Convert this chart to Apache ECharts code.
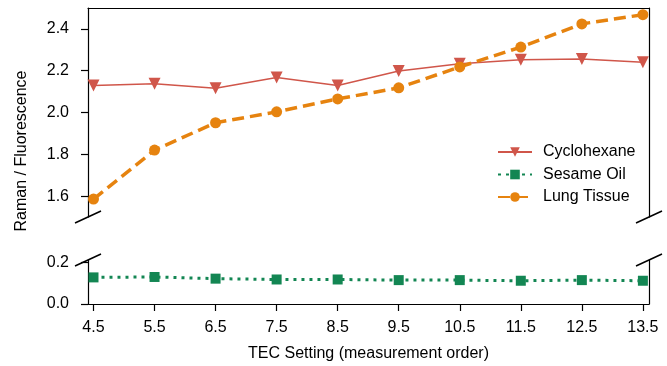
<!DOCTYPE html>
<html><head><meta charset="utf-8">
<script src="https://cdn.jsdelivr.net/npm/echarts@6/dist/echarts.min.js"></script>
<style>html,body{margin:0;padding:0;background:#fff}#c{width:667px;height:366px}</style>
</head><body><div id="c"></div>
<script>
const xValues = [4.5, 5.5, 6.5, 7.5, 8.5, 9.5, 10.5, 11.5, 12.5, 13.5];
const cyclohexane = [2.129, 2.138, 2.116, 2.167, 2.129, 2.199, 2.233, 2.252, 2.256, 2.240];
const sesameOil = [0.127, 0.129, 0.121, 0.117, 0.117, 0.114, 0.114, 0.111, 0.114, 0.111];
const lungTissue = [1.586, 1.820, 1.951, 2.003, 2.065, 2.118, 2.218, 2.313, 2.424, 2.468];
const xTicks = [4.5, 5.5, 6.5, 7.5, 8.5, 9.5, 10.5, 11.5, 12.5, 13.5];
const yTopTicks = [1.6, 1.8, 2.0, 2.2, 2.4];
const yBottomTicks = [0.0, 0.2];

const FONT = 'Liberation Sans';
const FS = 16;
const RED = '#d0564a', GREEN = '#138653', ORANGE = '#e6830f';
const pairs = arr => xValues.map((x, i) => [x, arr[i]]);
const axisLine = {show: true, lineStyle: {color: '#000', width: 1.2}};
const chart = echarts.init(document.getElementById('c'), null, {renderer: 'canvas'});

const L = 88, R = 649, T1 = 8, B1 = 217, T2 = 260, B2 = 304;
function yAx(gi, min, max, ticks, pos, show) {
  return {
    type: 'value', gridIndex: gi, position: pos, min: min, max: max,
    axisLine: axisLine,
    axisTick: show ? {show: true, customValues: ticks, length: 7, inside: false, lineStyle: {color: '#000', width: 1.2}} : {show: false},
    axisLabel: show ? {show: true, customValues: ticks, color: '#000', fontFamily: FONT, fontSize: FS, margin: 19,
      formatter: v => Number(v).toFixed(1)} : {show: false},
    splitLine: {show: false}
  };
}
const option = {
  animation: false,
  backgroundColor: '#fff',
  grid: [
    {left: L, right: 667 - R, top: T1, height: B1 - T1},
    {left: L, right: 667 - R, top: T2, height: B2 - T2}
  ],
  xAxis: [
    {type: 'value', gridIndex: 0, position: 'top', min: 4.41, max: 13.6,
     axisLine: axisLine, axisTick: {show: false}, axisLabel: {show: false}, splitLine: {show: false}},
    {type: 'value', gridIndex: 1, position: 'bottom', min: 4.41, max: 13.6,
     axisLine: axisLine,
     axisTick: {show: true, customValues: xTicks, length: 7, lineStyle: {color: '#000', width: 1.2}},
     axisLabel: {show: true, customValues: xTicks, color: '#000', fontFamily: FONT, fontSize: FS, margin: 16,
       formatter: v => Number(v).toFixed(1)},
     splitLine: {show: false}}
  ],
  yAxis: [
    yAx(0, 1.5, 2.5, yTopTicks, 'left', true),
    yAx(0, 1.5, 2.5, yTopTicks, 'right', false),
    yAx(1, 0, 0.21, yBottomTicks, 'left', true),
    yAx(1, 0, 0.21, yBottomTicks, 'right', false)
  ],
  legend: {
    orient: 'vertical', left: 497, top: 144, itemWidth: 34, itemHeight: 12, itemGap: 6.5, padding: 0,
    textStyle: {fontFamily: FONT, fontSize: FS, color: '#000', padding: [0, 0, 0, 6]},
    data: ['Cyclohexane', 'Sesame Oil', 'Lung Tissue']
  },
  series: [
    {name: 'Cyclohexane', type: 'line', xAxisIndex: 0, yAxisIndex: 0, data: pairs(cyclohexane),
     symbol: 'triangle', symbolRotate: 180, symbolSize: 12, clip: false,
     lineStyle: {color: RED, width: 1.5}, itemStyle: {color: RED}},
    {name: 'Sesame Oil', type: 'line', xAxisIndex: 1, yAxisIndex: 2, data: pairs(sesameOil),
     symbol: 'rect', symbolSize: 10, clip: false,
     lineStyle: {color: GREEN, width: 3, type: [3, 5]}, itemStyle: {color: GREEN}},
    {name: 'Lung Tissue', type: 'line', xAxisIndex: 0, yAxisIndex: 0, data: pairs(lungTissue),
     symbol: 'circle', symbolSize: 11, clip: false,
     lineStyle: {color: ORANGE, width: 3.5, type: [12, 6]}, itemStyle: {color: ORANGE}}
  ],
  graphic: [
    {type: 'line', shape: {x1: L - 13, y1: B1 + 6, x2: L + 13, y2: B1 - 6}, style: {stroke: '#000', lineWidth: 1.5}},
    {type: 'line', shape: {x1: R - 13, y1: B1 + 6, x2: R + 13, y2: B1 - 6}, style: {stroke: '#000', lineWidth: 1.5}},
    {type: 'line', shape: {x1: L - 13, y1: T2 + 6, x2: L + 13, y2: T2 - 6}, style: {stroke: '#000', lineWidth: 1.5}},
    {type: 'line', shape: {x1: R - 13, y1: T2 + 6, x2: R + 13, y2: T2 - 6}, style: {stroke: '#000', lineWidth: 1.5}},
    {type: 'text', x: 22, y: 151, rotation: Math.PI / 2,
     style: {text: 'Raman / Fluorescence', fontFamily: FONT, fontSize: FS, fill: '#000', align: 'center', verticalAlign: 'middle'}},
    {type: 'text', x: (L + R) / 2, y: 354,
     style: {text: 'TEC Setting (measurement order)', fontFamily: FONT, fontSize: FS, fill: '#000', align: 'center', verticalAlign: 'middle'}}
  ]
};
chart.setOption(option);
</script></body></html>
